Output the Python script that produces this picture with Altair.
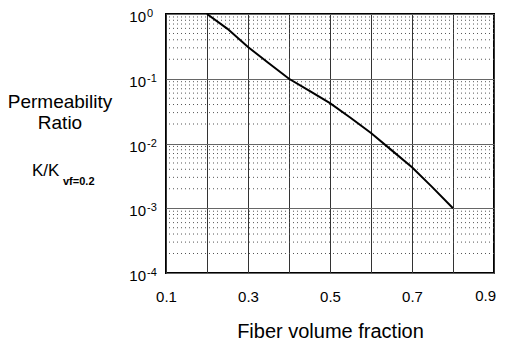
import altair as alt
import pandas as pd

# Curve
vf = [0.2, 0.25, 0.3, 0.35, 0.4, 0.45, 0.5, 0.55, 0.6, 0.65, 0.7, 0.75, 0.8]
ratio = [1.0, 0.59, 0.31, 0.175, 0.1, 0.065, 0.042, 0.025, 0.0145, 0.0079, 0.0043, 0.0021, 0.001]

x_ticks = [0.1, 0.2, 0.3, 0.4, 0.5, 0.6, 0.7, 0.8, 0.9]
x_labels_axis = ["0.1", "0.3", "0.5", "0.7"]
x_last = [0.9]
decades = [1.0, 0.1, 0.01, 0.001, 0.0001]
exponents = ["0", "-1", "-2", "-3", "-4"]
minor_grid = [k * d for d in [0.1, 0.01, 0.001, 0.0001] for k in range(2, 10)]

FONT = "Liberation Sans"

curve = pd.DataFrame({"vf": vf, "ratio": ratio})
labels = pd.DataFrame({"ratio": decades, "base": ["10"] * len(decades), "exp": exponents})
minor = pd.DataFrame({"ratio": minor_grid})
last = pd.DataFrame({"vf": x_last, "t": ["0.9"]})

xscale = alt.Scale(domain=[0.1, 0.9], nice=False, zero=False)
yscale = alt.Scale(type="log", domain=[0.0001, 1], nice=False)

lbl_list = "[" + ",".join("'" + s + "'" for s in x_labels_axis) + "]"

x_axis = alt.Axis(
    values=x_ticks, grid=True, gridColor="#333", gridWidth=1, gridOpacity=1,
    ticks=False, domain=False, labelFlush=False,
    labelExpr="indexof(" + lbl_list + ", format(datum.value, '.1f')) >= 0 ? format(datum.value, '.1f') : ''",
    labelFont=FONT, labelFontSize=15, labelColor="black", labelPadding=16,
    title="Fiber volume fraction", titleFont=FONT, titleFontSize=20,
    titleFontWeight="normal", titleColor="black", titleY=64, titleBaseline="alphabetic")

y_axis = alt.Axis(
    values=decades, grid=True, labels=False, ticks=False, domain=False, title=None,
    gridOpacity=1, gridColor="#666", gridWidth=1.2)

minor_rules = alt.Chart(minor).mark_rule(color="#555", strokeWidth=1, strokeDash=[1, 3]).encode(
    y=alt.Y("ratio:Q", scale=yscale, axis=y_axis)
)

line = alt.Chart(curve).mark_line(color="black", strokeWidth=2, clip=True).encode(
    x=alt.X("vf:Q", scale=xscale, axis=x_axis),
    y=alt.Y("ratio:Q", scale=yscale, axis=y_axis),
)

last_lbl = alt.Chart(last).mark_text(
    align="right", baseline="top", font=FONT, fontSize=15, color="black", dx=2
).encode(x=alt.X("vf:Q", scale=xscale, axis=x_axis), y=alt.value(275), text="t:N")

base_lbl = alt.Chart(labels).mark_text(
    align="right", baseline="middle", font=FONT, fontSize=15, color="black", dy=3
).encode(x=alt.value(-20), y=alt.Y("ratio:Q", scale=yscale, axis=y_axis), text="base:N")

exp_lbl = alt.Chart(labels).mark_text(
    align="left", baseline="middle", font=FONT, fontSize=11, color="black", dy=0
).encode(x=alt.value(-19), y=alt.Y("ratio:Q", scale=yscale, axis=y_axis), text="exp:N")

t1 = alt.Chart(pd.DataFrame({"t": ["Permeability"]})).mark_text(
    align="center", baseline="middle", font=FONT, fontSize=19, color="black"
).encode(x=alt.value(-106), y=alt.value(88), text="t:N")
t2 = alt.Chart(pd.DataFrame({"t": ["Ratio"]})).mark_text(
    align="center", baseline="middle", font=FONT, fontSize=19, color="black"
).encode(x=alt.value(-106), y=alt.value(109), text="t:N")
t3 = alt.Chart(pd.DataFrame({"t": ["K/K"]})).mark_text(
    align="left", baseline="middle", font=FONT, fontSize=17, color="black"
).encode(x=alt.value(-134), y=alt.value(157), text="t:N")
t4 = alt.Chart(pd.DataFrame({"t": ["vf=0.2"]})).mark_text(
    align="left", baseline="middle", font=FONT, fontSize=11, fontWeight="bold", color="black"
).encode(x=alt.value(-103), y=alt.value(168), text="t:N")

chart = alt.layer(minor_rules, line, last_lbl, base_lbl, exp_lbl, t1, t2, t3, t4).properties(
    width=328, height=259,
    autosize=alt.AutoSizeParams(type="none"),
    padding={"left": 158, "top": 6, "right": 3, "bottom": 69},
    background="white",
).configure_view(stroke="black", strokeWidth=2)

chart.save("out.html", embed_options={"renderer": "svg", "actions": False})
